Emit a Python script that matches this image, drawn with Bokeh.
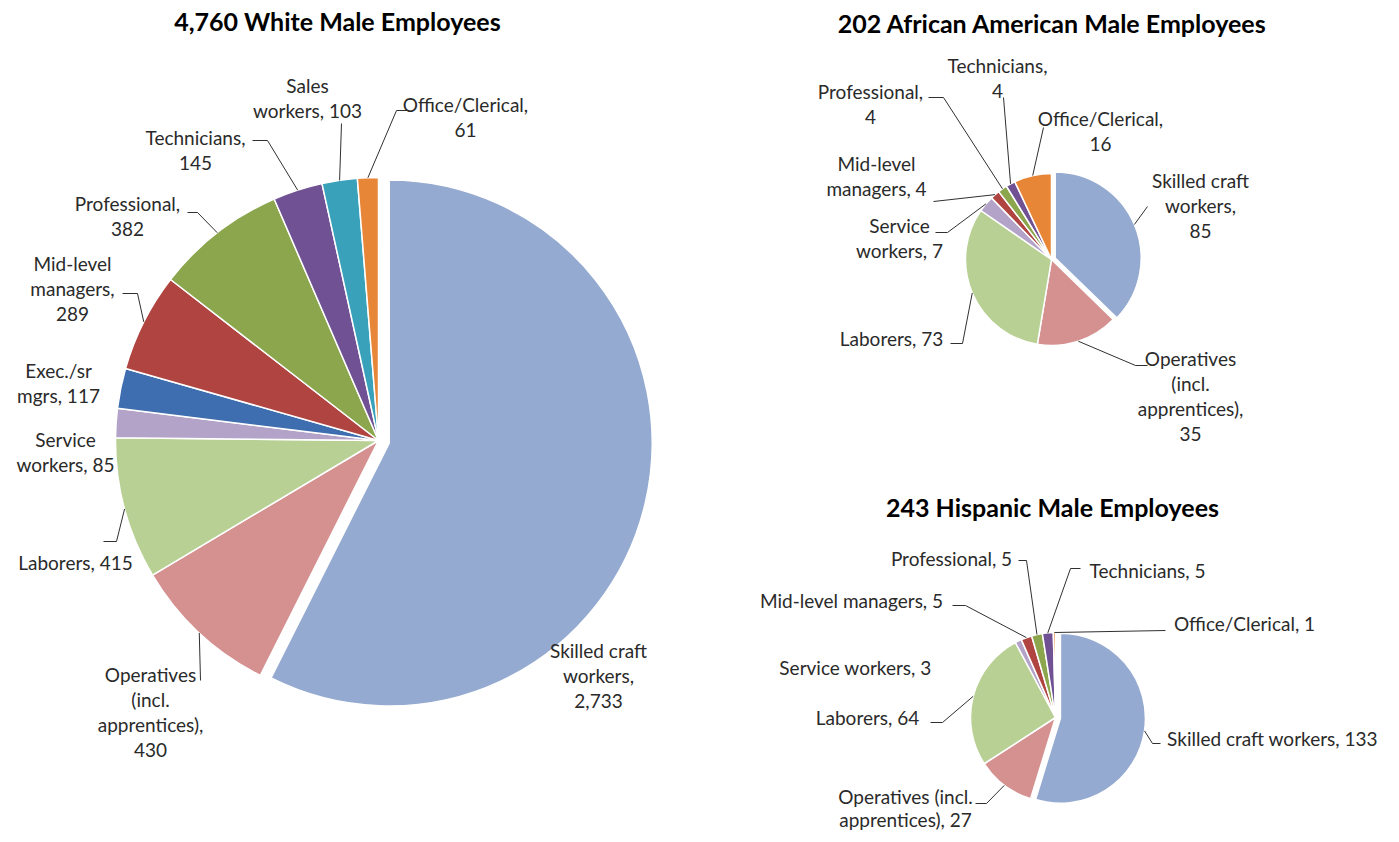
import math
from bokeh.plotting import figure
from bokeh.models import ColumnDataSource
from bokeh.embed import file_html
from bokeh.resources import INLINE
from bokeh.core.properties import value

# ---------------- data ----------------
categories = ["Skilled craft workers", "Operatives (incl. apprentices)", "Laborers",
              "Service workers", "Exec./sr mgrs", "Mid-level managers", "Professional",
              "Technicians", "Sales workers", "Office/Clerical"]
white_values = [2733, 430, 415, 85, 117, 289, 382, 145, 103, 61]
aa_values = [85, 35, 73, 7, 0, 4, 4, 4, 0, 16]
hisp_values = [133, 27, 64, 3, 0, 5, 5, 5, 0, 1]
titles = ["4,760 White Male Employees", "202 African American Male Employees",
          "243 Hispanic Male Employees"]
colors = ["#95AAD0", "#D59190", "#B8D094", "#B3A3C8", "#3E6EAF",
          "#B04441", "#8BA64C", "#6F5194", "#39A1BA", "#E88637"]

# ---------------- layout (reference pixel coordinates) ----------------
W, H = 1391, 834
def fx(x): return x
def fy(y): return H - y

LINE = 25
pies = [
    dict(values=white_values, cx=378, cy=440, r=263, explode=11, line=25,
         title=(titles[0], 337, 20),
         labels={
             0: ([2, 1, 1], 598, 650, None),
             1: ([1, 1, 1, 1], 150, 674, [(200, 680)]),
             2: ([2], 75, 562, [(103, 541), (116, 541)]),
             3: ([1, 2], 65, 439, None),
             4: ([1, 2], 58, 370, None),
             5: ([1, 1, 1], 72, 263, [(122, 293), (137, 293)]),
             6: ([1, 1], 127, 203, [(187, 212), (197, 212)]),
             7: ([1, 1], 195, 137, [(252, 140), (267, 140)]),
             8: ([1, 2], 307, 85, [(341, 123)]),
             9: ([1, 1], 465, 104, [(408, 110), (396, 110)]),
         }),
    dict(values=aa_values, cx=1051, cy=259, r=86, explode=4, line=25,
         title=(titles[1], 1052, 22),
         labels={
             0: ([2, 1, 1], 1200, 180, [(1147, 206)]),
             1: ([1, 1, 1, 1], 1190, 358, [(1147, 365), (1135, 365)]),
             2: ([2], 891, 338, [(950, 343), (962, 343)]),
             3: ([1, 2], 899, 225, [(935, 232), (947, 232)]),
             5: ([1, 2], 876, 163, [(933, 201)]),
             6: ([1, 1], 870, 91, [(928, 97), (943, 97)]),
             7: ([1, 1], 997, 65, [(1003, 97)]),
             9: ([1, 1], 1100, 118, [(1043, 127)]),
         }),
    dict(values=hisp_values, cx=1055, cy=717, r=85, explode=5, line=23,
         title=(titles[2], 1052, 506),
         labels={
             0: ([4], 1272, 738, [(1160, 743), (1152, 743)]),
             1: ([2, 2], 905, 796, [(975, 803), (986, 803)]),
             2: ([2], 867, 717, [(930, 722), (942, 722)]),
             3: ([3], 855, 667, None),
             5: ([3], 851, 600, [(952, 605), (965, 605)]),
             6: ([2], 951, 558, [(1018, 560), (1026, 560)]),
             7: ([2], 1147, 570, [(1080, 568), (1070, 568)]),
             9: ([2], 1244, 623, [(1165, 630)]),
         }),
]

p = figure(width=W, height=H, x_range=(0, W), y_range=(0, H),
           x_axis_type=None, y_axis_type=None, toolbar_location=None,
           output_backend="svg", min_border=0)
p.grid.visible = False
p.outline_line_color = None
p.background_fill_color = "white"

FONT = value("Lato")
tx, ty, tt = [], [], []
lxs, lys = [], []

for pie in pies:
    vals = pie["values"]
    total = sum(vals)
    cum = 0.0
    src = dict(x=[], y=[], start=[], end=[], color=[])
    for i, v in enumerate(vals):
        if v <= 0:
            continue
        a0 = cum / total
        a1 = (cum + v) / total
        cum += v
        mid = (a0 + a1) / 2 * 2 * math.pi  # clockwise from top
        ex = pie["explode"] if i == 0 else 0
        cx = fx(pie["cx"]) + ex * math.sin(mid)
        cy = fy(pie["cy"]) + ex * math.cos(mid)
        src["x"].append(cx)
        src["y"].append(cy)
        src["start"].append(math.pi / 2 - a0 * 2 * math.pi)
        src["end"].append(math.pi / 2 - a1 * 2 * math.pi)
        src["color"].append(colors[i])
        if i in pie["labels"]:
            pattern, lx, ly, leader = pie["labels"][i]
            words = f"{categories[i]}, {v:,}".split(" ")
            lines, k = [], 0
            for n in pattern:
                lines.append(" ".join(words[k:k + n]))
                k += n
            for j, line in enumerate(lines):
                tx.append(fx(lx))
                ty.append(fy(ly + j * pie["line"]))
                tt.append(line)
            if leader:
                ex_x = cx + pie["r"] * math.sin(mid)
                ex_y = cy + pie["r"] * math.cos(mid)
                lxs.append([fx(a) for a, b in leader] + [ex_x])
                lys.append([fy(b) for a, b in leader] + [ex_y])
    p.wedge(x="x", y="y", radius=pie["r"], start_angle="start", end_angle="end",
            direction="clock", fill_color="color", line_color="white",
            line_width=1.5, source=ColumnDataSource(src))
    t, tx0, ty0 = pie["title"]
    p.text(x=[fx(tx0)], y=[fy(ty0)], text=[t], text_font=FONT,
           text_font_size="25px", text_font_style="bold", text_color="black",
           text_align="center", text_baseline="middle")

p.multi_line(xs=lxs, ys=lys, line_color="#303030", line_width=1)
p.text(x=tx, y=ty, text=tt, text_font=FONT, text_font_size="19px",
       text_color="#2a2a2a", text_align="center", text_baseline="middle")

open("out.html", "w").write(file_html(p, INLINE))
